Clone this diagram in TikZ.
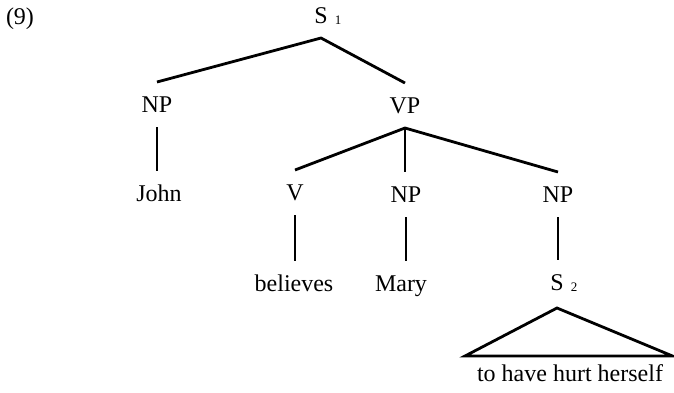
\documentclass[tikz,border=0pt]{standalone}
\usepackage{fontspec}
\setmainfont{Liberation Serif}
\newcommand{\subn}[1]{\rlap{\hspace{0.3em}\raisebox{-0.05em}{\fontsize{13}{13}\selectfont #1}}}
\tikzset{
  cat/.style={anchor=base, inner sep=0pt, text height=15pt, text depth=0pt, outer ysep=15pt, font=\fontsize{24}{28}\selectfont},
  branch/.style={line width=2.8pt}
}
\begin{document}
\begin{tikzpicture}[x=1pt,y=-1pt]
\useasboundingbox (0,0) rectangle (674,392);
\node[cat] (num) at (20,24) {(9)};
\node[cat] (S1) at (321,23) {S\subn{1}};
\node[cat] (NPa) at (157,112) {NP};
\node[cat] (VP) at (405,113) {VP};
\node[cat] (John) at (159,201) {John};
\node[cat] (V) at (295,200) {V};
\node[cat] (NPb) at (406,202) {NP};
\node[cat] (NPc) at (558,202) {NP};
\node[cat] (bel) at (294,291) {believes};
\node[cat] (Mary) at (401,291) {Mary};
\node[cat] (S2) at (557,290) {S\subn{2}};
\node[cat] (txt) at (570,381) {to have hurt herself};
\coordinate (tl) at (465,356);
\coordinate (tr) at (672.5,356);
\draw[branch] (NPa.north) -- (S1.south) -- (VP.north);
\draw[branch] (NPa.south) -- (NPa.south |- John.north);
\draw[branch] (V.north) -- (VP.south) -- (NPc.north);
\draw[branch] (VP.south) -- (VP.south |- NPb.north);
\draw[branch] (V.south) -- (V.south |- bel.north);
\draw[branch] (NPb.south) -- (NPb.south |- Mary.north);
\draw[branch] (NPc.south) -- (NPc.south |- S2.north);
\draw[branch, line join=miter] (tl) -- ([yshift=-3pt]S2.south) -- (tr) -- cycle;
\end{tikzpicture}
\end{document}
